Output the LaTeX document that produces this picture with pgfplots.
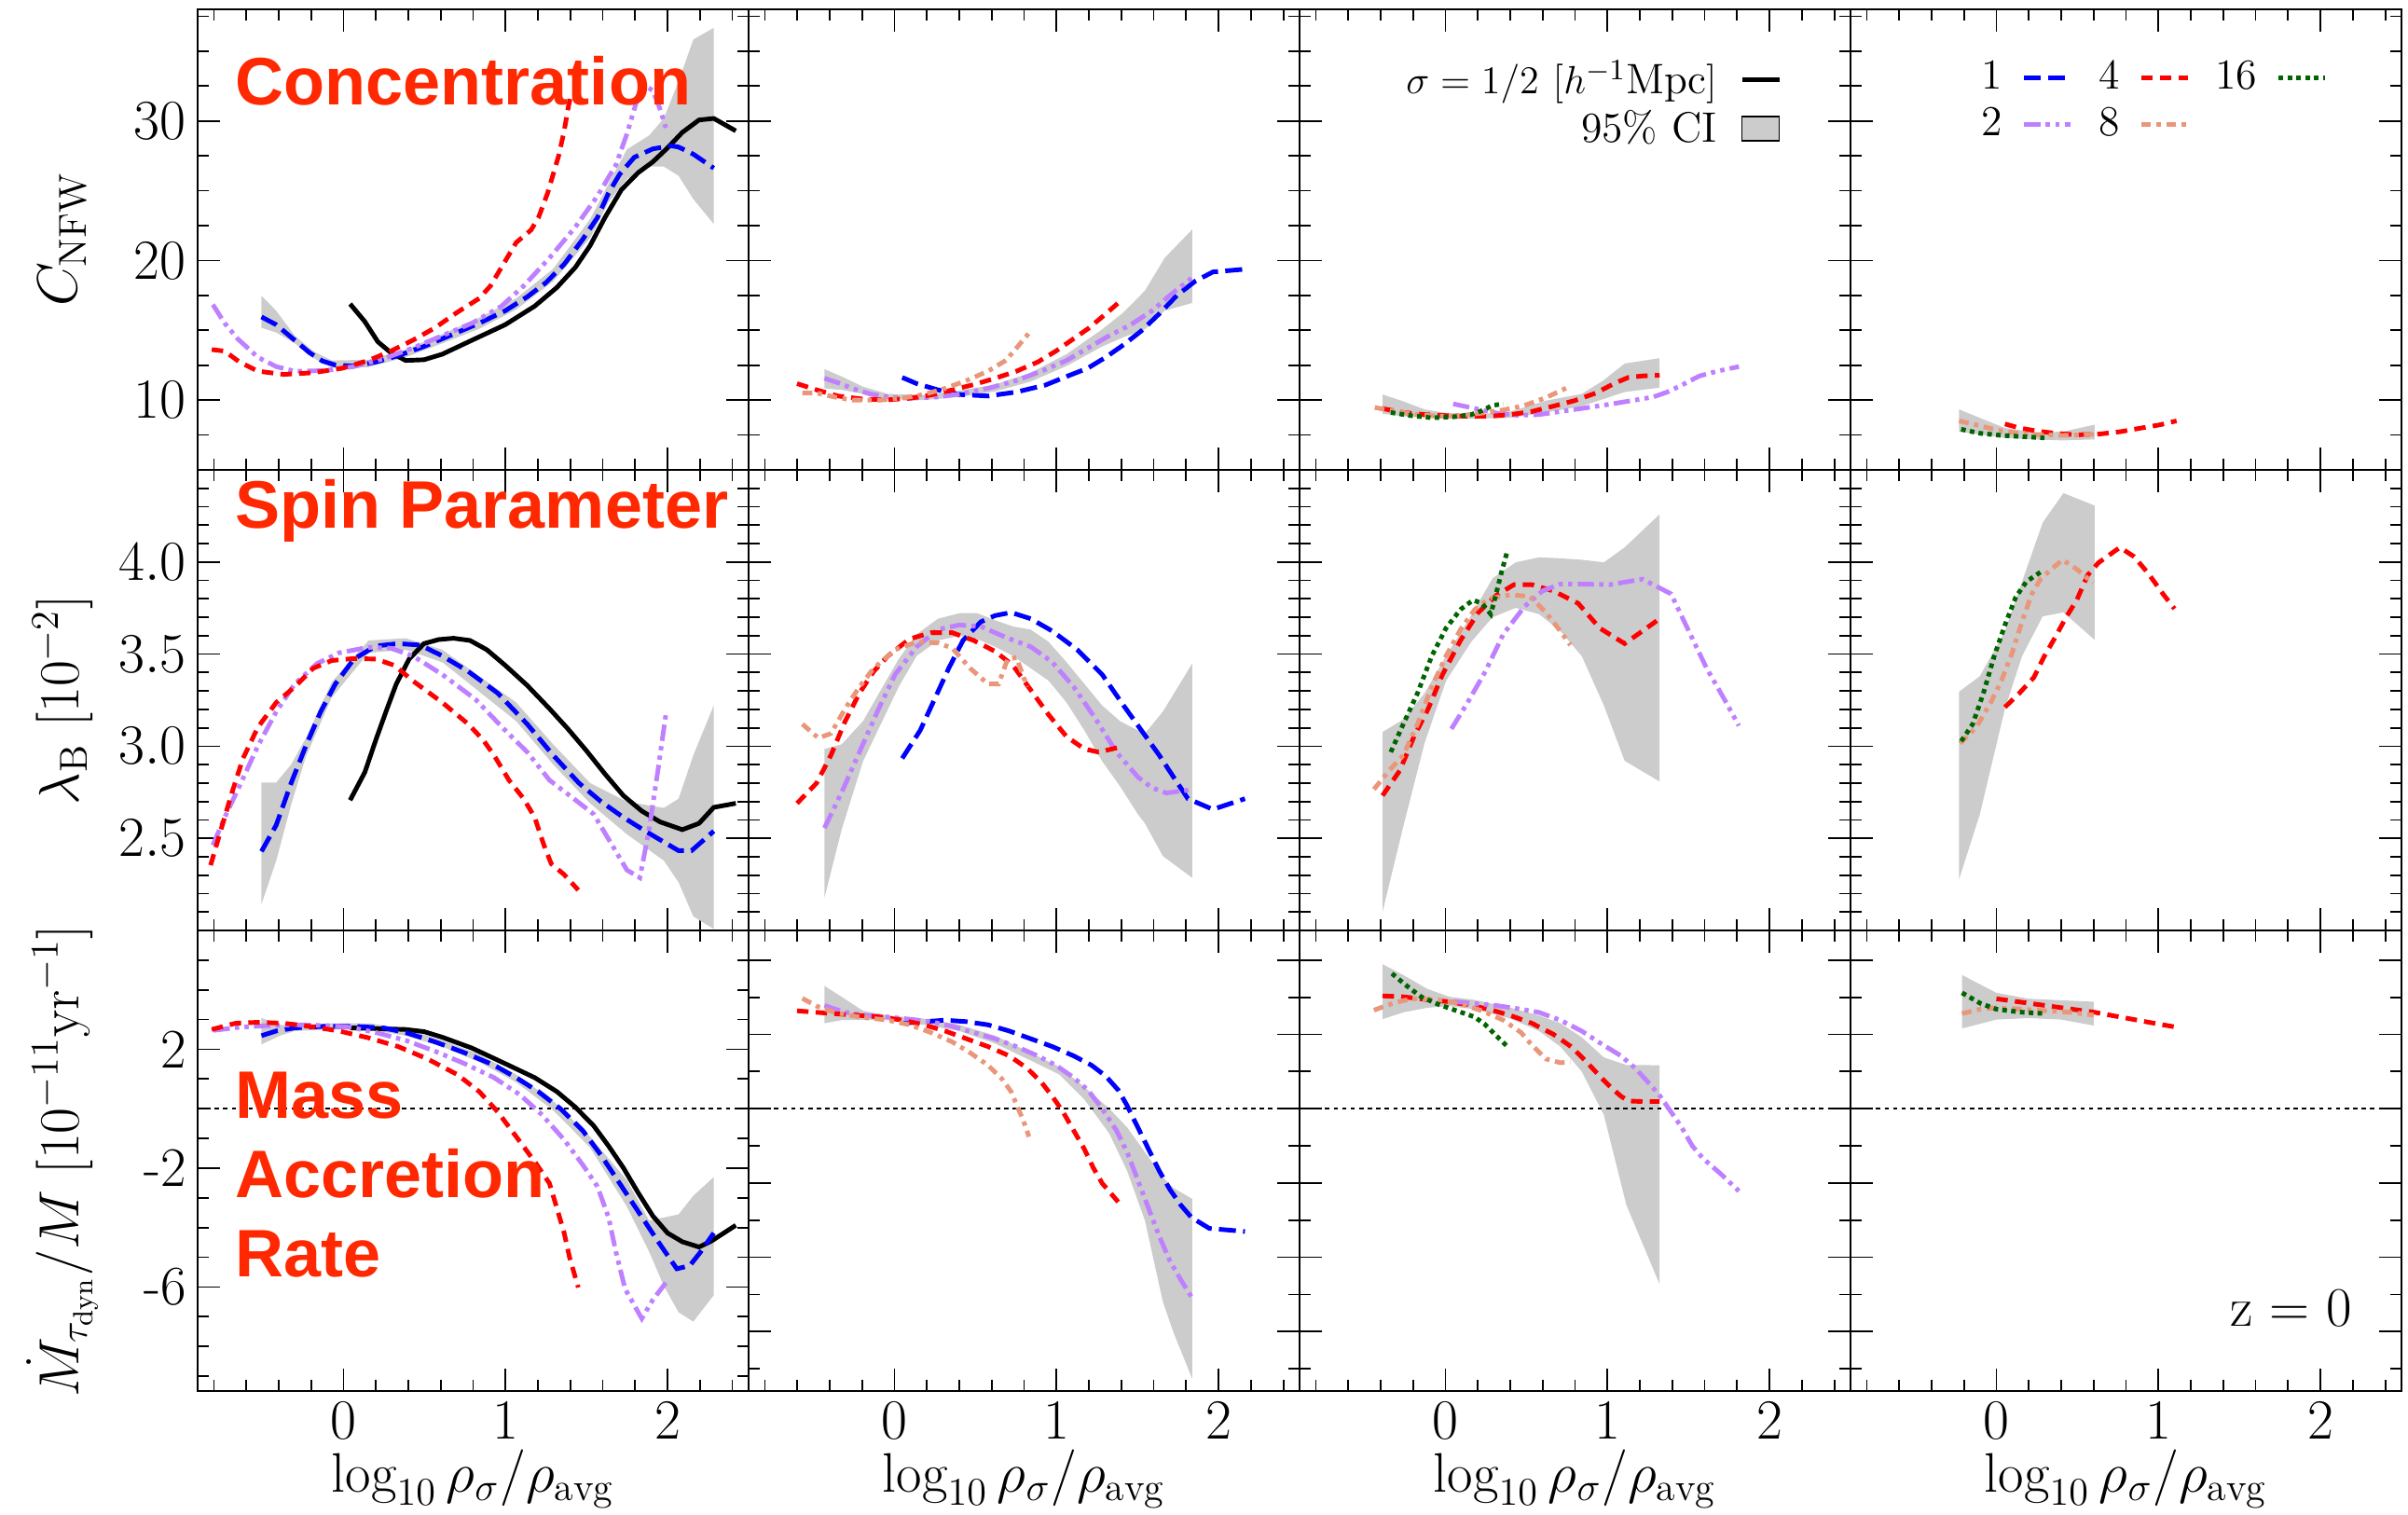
\documentclass[border=0pt]{standalone}
\usepackage{fontspec}
\usepackage{pgfplots}
\pgfplotsset{compat=1.18}
\newfontfamily\tf{Liberation Sans}
\definecolor{cBlue}{RGB}{0,0,255}
\definecolor{cPurple}{RGB}{191,128,255}
\definecolor{cRed}{RGB}{255,0,0}
\definecolor{cSalmon}{RGB}{233,150,122}
\definecolor{cGreen}{RGB}{0,100,0}
\definecolor{cBand}{RGB}{204,204,204}
\definecolor{cTitle}{RGB}{255,40,0}
\newcommand\fs{\fontsize{17}{20}\selectfont}
\newcommand\lf{\fontsize{13}{16}\selectfont}
\pgfplotsset{
 l0/.style={black, line width=1.4pt, mark=none},
 l1/.style={cBlue, line width=1.4pt, dash pattern=on 5.2pt off 2.2pt, mark=none},
 l2/.style={cPurple, line width=1.4pt, dash pattern=on 5pt off 1.6pt on 1.3pt off 1.6pt on 1.3pt off 1.6pt, mark=none},
 l4/.style={cRed, line width=1.4pt, dash pattern=on 3.5pt off 2.2pt, mark=none},
 l8/.style={cSalmon, line width=1.4pt, dash pattern=on 3pt off 1.7pt on 1.3pt off 1.7pt, mark=none},
 l16/.style={cGreen, line width=1.4pt, dash pattern=on 1.4pt off 1.3pt, mark=none},
 bnd/.style={fill=cBand, draw=none, mark=none, forget plot},
 zl/.style={black, line width=0.6pt, dash pattern=on 1.3pt off 1.3pt, mark=none, forget plot},
 panel/.style={width=5.91cm, height=4.94cm, scale only axis, anchor=south west,
   xmin=-0.9, xmax=2.5, xtick={0,1,2},
   minor xtick={-0.8,-0.6,-0.4,-0.2,0.2,0.4,0.6,0.8,1.2,1.4,1.6,1.8,2.2,2.4},
   tick align=inside, major tick length=0.24cm, minor tick length=0.12cm,
   every tick/.style={black, line width=0.5pt},
   axis line style={line width=0.8pt},
   ticklabel style={font=\fs}, label style={font=\fs},
   ylabel style={at={(axis description cs:-0.245,0.5)}, anchor=center},
   xlabel style={at={(axis description cs:0.5,-0.219)}, anchor=base},
   legend image code/.code={\draw[##1] (0cm,0cm) -- (0.45cm,0cm);},
 },
 noxl/.style={xticklabels={}},
 noyl/.style={yticklabels={}},
 bot/.style={xlabel={$\log_{10}\rho_\sigma/\rho_{\mathrm{avg}}$}},
 r1/.style={panel, ymin=5, ymax=38, ytick={10,20,30}, minor ytick={7.5,12.5,15,17.5,22.5,25,27.5,32.5,35,37.5}},
 r2/.style={panel, ymin=2, ymax=4.5, ytick={2.5,3,3.5,4}, minor ytick={2.1,2.2,2.3,2.4,2.6,2.7,2.8,2.9,3.1,3.2,3.3,3.4,3.6,3.7,3.8,3.9,4.1,4.2,4.3,4.4},
   yticklabel style={/pgf/number format/.cd, fixed, fixed zerofill, precision=1}},
 r3a/.style={panel, ymin=-9.5, ymax=6, ytick={-6,-2,2}, minor ytick={-9,-8,-7,-5,-4,-3,-1,0,1,3,4,5}},
 r3b/.style={panel, ymin=-9.5, ymax=6, ytick={-7.5,-5,-2.5,0,2.5,5}, minor ytick={-8.75,-6.25,-3.75,-1.25,1.25,3.75}},
}
\begin{document}
\begin{tikzpicture}
\useasboundingbox (0,0) rectangle (25.83,16.25);
% ================= ROW 1 =================
\begin{axis}[r1, noxl, at={(2.12cm,11.21cm)}, ylabel={$C_{\mathrm{NFW}}$}]
\addplot[bnd] coordinates {(-0.506,17.47) (-0.415,16.40) (-0.301,14.62) (-0.187,13.51) (-0.073,12.84) (0.155,12.89) (0.383,13.62) (0.610,14.73) (0.838,15.91) (1.066,17.29) (1.294,19.40) (1.522,22.96) (1.636,25.51) (1.749,27.96) (1.886,28.96) (1.977,30.18) (2.068,32.84) (2.159,35.84) (2.285,36.67)
 (2.285,22.62) (2.159,24.40) (2.068,26.07) (1.977,26.73) (1.886,26.73) (1.749,25.84) (1.636,24.18) (1.522,21.62) (1.294,18.51) (1.066,16.49) (0.838,15.11) (0.610,14.07) (0.383,13.07) (0.155,12.36) (-0.073,12.33) (-0.187,13.02) (-0.301,14.07) (-0.415,14.84) (-0.506,15.18)} -- cycle;
\addplot[l0,forget plot] coordinates {(0.041,16.89) (0.132,15.62) (0.212,14.18) (0.292,13.40) (0.383,12.84) (0.497,12.89) (0.610,13.29) (0.793,14.29) (0.998,15.40) (1.180,16.73) (1.317,18.07) (1.431,19.51) (1.522,21.07) (1.613,23.07) (1.715,25.07) (1.818,26.29) (1.909,27.07) (2.0,28.07) (2.091,29.18) (2.194,30.07) (2.285,30.18) (2.421,29.29)};
\addplot[l1,forget plot] coordinates {(-0.506,15.96) (-0.415,15.40) (-0.301,14.29) (-0.210,13.40) (-0.130,12.80) (-0.050,12.51) (0.064,12.44) (0.200,12.73) (0.337,13.18) (0.497,13.84) (0.656,14.62) (0.838,15.51) (0.998,16.40) (1.134,17.40) (1.248,18.40) (1.362,19.73) (1.476,21.51) (1.567,23.07) (1.636,24.84) (1.704,26.18) (1.795,27.40) (1.909,28.0) (2.023,28.22) (2.068,28.13) (2.159,27.62) (2.285,26.62)};
\addplot[l2,forget plot] coordinates {(-0.806,16.84) (-0.733,15.51) (-0.654,14.40) (-0.528,13.07) (-0.415,12.40) (-0.301,12.07) (-0.118,12.11) (0.064,12.40) (0.246,12.96) (0.428,13.73) (0.610,14.62) (0.793,15.51) (0.975,16.73) (1.112,18.18) (1.271,20.18) (1.431,22.40) (1.567,24.62) (1.681,26.84) (1.749,29.07) (1.806,31.29) (1.863,32.51) (1.909,32.18) (1.954,30.84) (1.989,29.51)};
\addplot[l4,forget plot] coordinates {(-0.813,13.62) (-0.733,13.51) (-0.642,12.73) (-0.528,12.07) (-0.369,11.84) (-0.187,11.96) (-0.005,12.29) (0.155,12.84) (0.292,13.51) (0.428,14.29) (0.565,15.18) (0.702,16.29) (0.838,17.29) (0.907,18.18) (0.975,19.51) (1.066,21.29) (1.157,22.18) (1.203,23.07) (1.260,24.84) (1.294,26.18) (1.328,27.51) (1.362,29.29) (1.385,30.84) (1.40,31.7)};
\end{axis}
\begin{axis}[r1, noxl, noyl, at={(8.03cm,11.21cm)}]
\addplot[bnd] coordinates {(-0.432,12.22) (-0.326,11.69) (-0.194,10.96) (-0.040,10.44) (0.181,10.36) (0.401,10.67) (0.621,11.11) (0.841,11.96) (1.062,13.29) (1.282,15.07) (1.414,16.29) (1.546,17.84) (1.667,20.18) (1.837,22.22)
 (1.837,16.96) (1.667,16.40) (1.546,15.07) (1.414,14.51) (1.282,13.84) (1.062,12.44) (0.841,11.33) (0.621,10.62) (0.401,10.22) (0.181,10.0) (-0.040,10.07) (-0.194,10.44) (-0.326,10.73) (-0.432,10.84)} -- cycle;
\addplot[l1,forget plot] coordinates {(0.048,11.62) (0.137,11.18) (0.269,10.73) (0.401,10.40) (0.577,10.29) (0.753,10.58) (0.930,11.07) (1.062,11.69) (1.194,12.29) (1.304,13.07) (1.414,13.96) (1.524,14.96) (1.634,16.18) (1.744,17.51) (1.855,18.51) (1.965,19.18) (2.163,19.38)};
\addplot[l2,forget plot] coordinates {(-0.432,11.56) (-0.348,11.24) (-0.260,10.84) (-0.150,10.44) (-0.040,10.22) (0.093,10.13) (0.269,10.22) (0.401,10.44) (0.577,10.84) (0.753,11.40) (0.930,12.18) (1.062,12.84) (1.194,13.73) (1.326,14.62) (1.458,15.40) (1.590,16.40) (1.700,17.51) (1.833,18.73)};
\addplot[l4,forget plot] coordinates {(-0.601,11.18) (-0.480,10.73) (-0.348,10.29) (-0.194,10.07) (-0.040,10.02) (0.093,10.13) (0.225,10.36) (0.357,10.73) (0.489,11.11) (0.621,11.56) (0.753,12.07) (0.885,12.73) (0.996,13.51) (1.106,14.40) (1.194,15.11) (1.282,15.96) (1.381,16.96)};
\addplot[l8,forget plot] coordinates {(-0.568,10.51) (-0.480,10.51) (-0.370,10.22) (-0.260,10.0) (-0.084,10.0) (0.070,10.18) (0.181,10.40) (0.313,10.84) (0.445,11.40) (0.577,12.07) (0.687,12.84) (0.753,13.73) (0.830,14.80)};
\end{axis}
\begin{axis}[r1, noxl, noyl, at={(13.94cm,11.21cm)},
  legend image code/.code={\draw[#1] (0cm,0cm) -- (0.4cm,0cm);},
  legend style={at={(0.876,0.897)}, anchor=north east, draw=none, fill=none, font=\lf, inner sep=0pt, nodes={inner sep=1pt}, column sep=0.21cm, row sep=1.5pt},
  legend cell align=right, legend plot pos=right]
\addplot[bnd] coordinates {(-0.388,10.40) (-0.260,9.91) (-0.128,9.33) (0.004,9.07) (0.181,8.96) (0.401,9.18) (0.621,9.96) (0.841,10.44) (0.974,11.40) (1.106,12.62) (1.322,13.0)
 (1.322,10.89) (1.106,10.58) (0.974,10.07) (0.841,9.56) (0.621,9.11) (0.401,8.73) (0.181,8.67) (0.004,8.67) (-0.128,8.73) (-0.260,8.84) (-0.388,9.02)} -- cycle;
\addplot[l2,forget plot] coordinates {(0.048,9.73) (0.181,9.40) (0.313,9.07) (0.445,8.91) (0.577,8.96) (0.709,9.18) (0.841,9.40) (0.996,9.67) (1.150,9.96) (1.282,10.22) (1.370,10.58) (1.458,11.07) (1.568,11.73) (1.678,12.07) (1.811,12.40)};
\addplot[l4,forget plot] coordinates {(-0.392,9.40) (-0.260,9.11) (-0.128,8.96) (0.004,8.89) (0.137,8.84) (0.269,8.84) (0.401,8.96) (0.533,9.18) (0.665,9.56) (0.797,9.96) (0.930,10.51) (1.040,11.18) (1.128,11.62) (1.216,11.73) (1.322,11.78)};
\addplot[l8,forget plot] coordinates {(-0.436,9.47) (-0.304,9.18) (-0.172,8.96) (-0.040,8.84) (0.093,8.89) (0.225,9.07) (0.357,9.29) (0.489,9.62) (0.621,10.18) (0.764,10.96)};
\addplot[l16,forget plot] coordinates {(-0.337,9.11) (-0.216,8.89) (-0.084,8.73) (0.048,8.80) (0.159,8.96) (0.225,9.24) (0.291,9.62) (0.357,9.73)};
\addlegendimage{l0}
\addlegendentry{$\sigma = 1/2\ [h^{-1}\mathrm{Mpc}]$}
\addlegendimage{legend image code/.code={\draw[fill=cBand,draw=black,line width=0.5pt] (0cm,-0.13cm) rectangle (0.4cm,0.13cm);}}
\addlegendentry{95\% CI}
\end{axis}
\begin{axis}[r1, noxl, noyl, at={(19.85cm,11.21cm)},
  legend image code/.code={\draw[#1] (0cm,0cm) -- (0.5cm,0cm);},
  legend columns=3,
  legend style={at={(0.867,0.897)}, anchor=north east, draw=none, fill=none, font=\lf, inner sep=0pt, nodes={inner sep=1pt}, column sep=0.17cm, row sep=2pt, /tikz/every even column/.append style={column sep=0.24cm}},
  legend cell align=right, legend plot pos=right]
\addplot[bnd] coordinates {(-0.230,9.33) (-0.080,8.62) (0.053,8.0) (0.230,7.69) (0.408,7.73) (0.607,8.24)
 (0.607,7.18) (0.408,7.11) (0.230,7.18) (0.053,7.29) (-0.080,7.51) (-0.230,7.73)} -- cycle;
\addplot[l4,forget plot] coordinates {(0.053,8.29) (0.142,8.0) (0.252,7.78) (0.363,7.62) (0.496,7.51) (0.629,7.56) (0.762,7.73) (0.895,8.0) (1.006,8.22) (1.112,8.51)};
\addplot[l8,forget plot] coordinates {(-0.230,8.51) (-0.124,8.22) (0.009,7.84) (0.142,7.62) (0.275,7.51) (0.408,7.47) (0.540,7.51) (0.607,7.56)};
\addplot[l16,forget plot] coordinates {(-0.217,7.91) (-0.102,7.62) (0.031,7.47) (0.164,7.38) (0.297,7.29)};
\addlegendimage{l1}\addlegendentry{1}
\addlegendimage{l4}\addlegendentry{4}
\addlegendimage{l16}\addlegendentry{16}
\addlegendimage{l2}\addlegendentry{2}
\addlegendimage{l8}\addlegendentry{8}
\end{axis}
% ================= ROW 2 =================
\begin{axis}[r2, noxl, at={(2.12cm,6.27cm)}, ylabel={$\lambda_{\mathrm{B}}\ [10^{-2}]$}]
\addplot[bnd] coordinates {(-0.506,2.803) (-0.415,2.803) (-0.323,2.901) (-0.232,3.044) (-0.073,3.347) (0.155,3.574) (0.383,3.586) (0.610,3.524) (0.838,3.380) (1.066,3.237) (1.294,3.010) (1.522,2.800) (1.749,2.699) (1.977,2.665) (2.068,2.715) (2.159,2.951) (2.285,3.221)
 (2.285,2.008) (2.159,2.076) (2.068,2.261) (1.977,2.379) (1.749,2.522) (1.522,2.690) (1.294,2.901) (1.066,3.136) (0.838,3.296) (0.610,3.456) (0.383,3.524) (0.155,3.507) (-0.073,3.263) (-0.232,2.943) (-0.323,2.682) (-0.415,2.379) (-0.506,2.143)} -- cycle;
\addplot[l0,forget plot] coordinates {(0.041,2.707) (0.132,2.859) (0.200,3.035) (0.269,3.204) (0.326,3.338) (0.405,3.473) (0.497,3.557) (0.588,3.579) (0.679,3.586) (0.781,3.574) (0.884,3.524) (0.998,3.439) (1.134,3.330) (1.271,3.204) (1.385,3.094) (1.499,2.976) (1.613,2.850) (1.727,2.732) (1.841,2.648) (1.954,2.589) (2.091,2.547) (2.194,2.581) (2.285,2.668) (2.421,2.690)};
\addplot[l1,forget plot] coordinates {(-0.506,2.429) (-0.415,2.572) (-0.323,2.800) (-0.232,3.002) (-0.141,3.187) (-0.050,3.338) (0.064,3.473) (0.200,3.544) (0.337,3.557) (0.474,3.549) (0.610,3.490) (0.770,3.406) (0.952,3.288) (1.134,3.120) (1.294,2.951) (1.453,2.800) (1.590,2.699) (1.727,2.614) (1.863,2.539) (1.977,2.480) (2.068,2.433) (2.148,2.433) (2.285,2.539)};
\addplot[l2,forget plot] coordinates {(-0.806,2.463) (-0.733,2.614) (-0.642,2.783) (-0.528,3.002) (-0.415,3.187) (-0.301,3.338) (-0.164,3.448) (-0.027,3.507) (0.155,3.537) (0.292,3.532) (0.428,3.490) (0.610,3.389) (0.815,3.254) (0.998,3.086) (1.134,2.968) (1.271,2.816) (1.408,2.724) (1.544,2.631) (1.658,2.463) (1.749,2.328) (1.829,2.286) (1.886,2.547) (1.943,2.884) (1.989,3.170)};
\addplot[l4,forget plot] coordinates {(-0.820,2.354) (-0.756,2.547) (-0.688,2.749) (-0.620,2.934) (-0.528,3.103) (-0.415,3.237) (-0.301,3.322) (-0.187,3.423) (-0.073,3.465) (0.064,3.476) (0.200,3.473) (0.314,3.439) (0.428,3.355) (0.610,3.237) (0.770,3.120) (0.861,3.035) (0.929,2.951) (1.021,2.816) (1.112,2.715) (1.180,2.614) (1.237,2.463) (1.282,2.362) (1.362,2.303) (1.449,2.219)};
\end{axis}
\begin{axis}[r2, noxl, noyl, at={(8.03cm,6.27cm)}]
\addplot[bnd] coordinates {(-0.432,2.985) (-0.326,3.010) (-0.194,3.136) (-0.084,3.305) (0.026,3.473) (0.137,3.608) (0.269,3.692) (0.401,3.722) (0.511,3.722) (0.621,3.684) (0.731,3.650) (0.841,3.633) (0.952,3.566) (1.062,3.456) (1.172,3.338) (1.282,3.221) (1.392,3.136) (1.502,3.086) (1.546,3.069) (1.656,3.187) (1.837,3.448)
 (1.837,2.286) (1.656,2.404) (1.546,2.581) (1.502,2.631) (1.392,2.783) (1.282,2.918) (1.172,3.086) (1.062,3.237) (0.952,3.355) (0.841,3.423) (0.731,3.490) (0.621,3.540) (0.511,3.582) (0.401,3.599) (0.269,3.574) (0.137,3.490) (0.026,3.322) (-0.084,3.120) (-0.194,2.918) (-0.326,2.547) (-0.432,2.177)} -- cycle;
\addplot[l1,forget plot] coordinates {(0.048,2.934) (0.159,3.086) (0.247,3.254) (0.335,3.423) (0.423,3.574) (0.533,3.675) (0.621,3.709) (0.720,3.726) (0.841,3.692) (0.974,3.625) (1.128,3.524) (1.282,3.389) (1.414,3.221) (1.524,3.086) (1.634,2.951) (1.722,2.833) (1.811,2.715) (1.965,2.657) (2.163,2.715)};
\addplot[l2,forget plot] coordinates {(-0.432,2.556) (-0.326,2.749) (-0.216,2.968) (-0.106,3.187) (0.004,3.389) (0.137,3.540) (0.269,3.633) (0.401,3.658) (0.533,3.650) (0.687,3.591) (0.841,3.540) (0.974,3.456) (1.106,3.322) (1.238,3.153) (1.370,2.968) (1.502,2.833) (1.590,2.774) (1.678,2.746) (1.822,2.763)};
\addplot[l4,forget plot] coordinates {(-0.601,2.690) (-0.480,2.800) (-0.392,2.951) (-0.304,3.136) (-0.216,3.288) (-0.128,3.406) (-0.040,3.490) (0.093,3.582) (0.225,3.616) (0.357,3.616) (0.489,3.574) (0.621,3.515) (0.731,3.439) (0.841,3.305) (0.952,3.170) (1.062,3.052) (1.172,2.985) (1.260,2.968) (1.381,2.993)};
\addplot[l8,forget plot] coordinates {(-0.568,3.120) (-0.469,3.044) (-0.392,3.069) (-0.304,3.204) (-0.216,3.322) (-0.128,3.423) (0.004,3.524) (0.137,3.566) (0.269,3.561) (0.357,3.532) (0.467,3.423) (0.577,3.338) (0.643,3.338) (0.698,3.473) (0.753,3.481) (0.819,3.322)};
\end{axis}
\begin{axis}[r2, noxl, noyl, at={(13.94cm,6.27cm)}]
\addplot[bnd] coordinates {(-0.388,3.077) (-0.260,3.145) (-0.128,3.288) (0.004,3.490) (0.159,3.709) (0.291,3.911) (0.434,3.998) (0.577,4.025) (0.709,4.020) (0.841,4.012) (0.978,3.998) (1.106,4.079) (1.322,4.259)
 (1.322,2.808) (1.106,2.921) (0.978,3.221) (0.841,3.490) (0.709,3.625) (0.577,3.717) (0.434,3.751) (0.291,3.700) (0.159,3.566) (0.004,3.355) (-0.128,3.019) (-0.260,2.564) (-0.388,2.101)} -- cycle;
\addplot[l4,forget plot] coordinates {(-0.388,2.732) (-0.282,2.867) (-0.194,3.052) (-0.106,3.204) (-0.018,3.389) (0.093,3.574) (0.203,3.726) (0.313,3.818) (0.423,3.877) (0.533,3.877) (0.665,3.843) (0.819,3.776) (0.952,3.641) (1.106,3.557) (1.216,3.625) (1.322,3.692)};
\addplot[l2,forget plot] coordinates {(0.037,3.094) (0.137,3.237) (0.247,3.406) (0.357,3.608) (0.489,3.759) (0.599,3.843) (0.709,3.880) (0.841,3.880) (1.018,3.877) (1.216,3.907) (1.392,3.827) (1.502,3.625) (1.612,3.423) (1.722,3.254) (1.811,3.111)};
\addplot[l8,forget plot] coordinates {(-0.441,2.766) (-0.348,2.867) (-0.260,2.951) (-0.172,3.120) (-0.084,3.322) (0.004,3.490) (0.093,3.633) (0.181,3.742) (0.269,3.801) (0.401,3.822) (0.522,3.813) (0.621,3.726) (0.709,3.625) (0.771,3.549)};
\addplot[l16,forget plot] coordinates {(-0.337,2.968) (-0.260,3.120) (-0.172,3.288) (-0.084,3.490) (0.004,3.641) (0.093,3.742) (0.170,3.793) (0.225,3.776) (0.280,3.717) (0.313,3.827) (0.346,3.944) (0.383,4.062)};
\end{axis}
\begin{axis}[r2, noxl, noyl, at={(19.85cm,6.27cm)}]
\addplot[bnd] coordinates {(-0.230,3.296) (-0.102,3.380) (0.053,3.625) (0.159,3.894) (0.286,4.214) (0.414,4.374) (0.607,4.306)
 (0.607,3.577) (0.414,3.726) (0.286,3.705) (0.159,3.490) (0.053,3.204) (-0.102,2.631) (-0.230,2.278)} -- cycle;
\addplot[l4,forget plot] coordinates {(0.053,3.212) (0.142,3.288) (0.230,3.372) (0.297,3.490) (0.363,3.591) (0.430,3.700) (0.496,3.793) (0.563,3.928) (0.629,3.995) (0.762,4.079) (0.850,4.029) (0.939,3.936) (1.028,3.827) (1.099,3.746)};
\addplot[l8,forget plot] coordinates {(-0.224,3.015) (-0.124,3.103) (-0.035,3.237) (0.031,3.355) (0.097,3.507) (0.164,3.692) (0.219,3.827) (0.275,3.911) (0.341,3.961) (0.408,4.012) (0.496,3.961) (0.596,3.886)};
\addplot[l16,forget plot] coordinates {(-0.217,3.027) (-0.146,3.120) (-0.080,3.288) (-0.013,3.490) (0.053,3.658) (0.120,3.810) (0.186,3.894) (0.286,3.953)};
\end{axis}
% ================= ROW 3 =================
\begin{axis}[r3a, bot, at={(2.12cm,1.33cm)}, yticklabels={-6,-2,2}, ylabel={$\dot{M}_{\tau_{\mathrm{dyn}}}/M\ [10^{-11}\mathrm{yr}^{-1}]$}]
\addplot[bnd] coordinates {(-0.506,3.054) (-0.392,2.824) (-0.301,2.772) (-0.073,2.877) (0.155,2.877) (0.383,2.688) (0.610,2.301) (0.838,1.831) (1.066,1.151) (1.294,0.262) (1.522,-0.941) (1.749,-2.406) (1.886,-3.766) (1.977,-3.661) (2.068,-3.556) (2.159,-2.929) (2.285,-2.301)
 (2.285,-6.276) (2.159,-7.165) (2.068,-6.851) (1.977,-5.962) (1.886,-4.812) (1.749,-3.295) (1.522,-1.308) (1.294,-0.052) (1.066,0.889) (0.838,1.569) (0.610,2.092) (0.383,2.458) (0.155,2.667) (-0.073,2.667) (-0.301,2.615) (-0.392,2.458) (-0.506,2.165)} -- cycle;
\addplot[zl] coordinates {(-0.9,0) (2.5,0)};
\addplot[l0,forget plot] coordinates {(0.041,2.720) (0.383,2.667) (0.497,2.594) (0.610,2.406) (0.793,2.040) (0.998,1.517) (1.180,1.046) (1.317,0.575) (1.431,0.052) (1.544,-0.575) (1.636,-1.255) (1.727,-1.987) (1.818,-2.824) (1.909,-3.609) (2.0,-4.184) (2.091,-4.477) (2.194,-4.655) (2.273,-4.446) (2.421,-3.923)};
\addplot[l1,forget plot] coordinates {(-0.506,2.458) (-0.415,2.615) (-0.301,2.720) (-0.118,2.772) (0.064,2.772) (0.246,2.720) (0.383,2.563) (0.565,2.249) (0.747,1.883) (0.929,1.464) (1.066,1.046) (1.203,0.575) (1.339,0) (1.476,-0.732) (1.590,-1.569) (1.704,-2.510) (1.818,-3.452) (1.932,-4.393) (2.057,-5.387) (2.137,-5.282) (2.205,-4.812) (2.285,-4.184)};
\addplot[l2,forget plot] coordinates {(-0.802,2.636) (-0.642,2.741) (-0.483,2.793) (-0.301,2.824) (-0.118,2.803) (0.041,2.741) (0.200,2.563) (0.383,2.301) (0.565,1.935) (0.747,1.517) (0.929,1.046) (1.089,0.471) (1.226,-0.209) (1.362,-1.046) (1.476,-1.883) (1.567,-2.615) (1.636,-3.661) (1.681,-4.812) (1.738,-6.067) (1.841,-7.061) (1.909,-6.433) (1.989,-5.858)};
\addplot[l4,forget plot] coordinates {(-0.813,2.667) (-0.665,2.877) (-0.528,2.908) (-0.369,2.877) (-0.210,2.772) (-0.027,2.615) (0.155,2.385) (0.337,2.092) (0.519,1.674) (0.702,1.151) (0.838,0.575) (0.952,-0.105) (1.066,-0.941) (1.180,-1.778) (1.271,-2.510) (1.317,-3.347) (1.362,-4.184) (1.396,-5.021) (1.449,-6.015)};
\end{axis}
\begin{axis}[r3b, noyl, bot, at={(8.03cm,1.33cm)}]
\addplot[bnd] coordinates {(-0.432,4.132) (-0.326,3.766) (-0.194,3.295) (-0.040,3.138) (0.181,3.033) (0.401,2.824) (0.621,2.458) (0.841,1.883) (1.018,1.412) (1.172,0.732) (1.326,0.0) (1.436,-0.628) (1.546,-1.464) (1.656,-2.301) (1.722,-2.667) (1.837,-3.033)
 (1.837,-9.079) (1.722,-7.531) (1.656,-6.485) (1.546,-3.766) (1.436,-2.092) (1.326,-0.837) (1.172,0.314) (1.018,1.151) (0.841,1.621) (0.621,2.197) (0.401,2.615) (0.181,2.824) (-0.040,2.981) (-0.194,2.981) (-0.326,2.981) (-0.432,2.877)} -- cycle;
\addplot[zl] coordinates {(-0.9,0) (2.5,0)};
\addplot[l1,forget plot] coordinates {(0.048,2.877) (0.181,2.929) (0.313,2.981) (0.445,2.929) (0.577,2.824) (0.709,2.615) (0.841,2.354) (0.974,2.092) (1.106,1.778) (1.216,1.464) (1.304,1.098) (1.381,0.628) (1.436,0.105) (1.502,-0.628) (1.568,-1.360) (1.634,-2.092) (1.700,-2.720) (1.767,-3.243) (1.833,-3.661) (1.943,-4.027) (2.163,-4.132)};
\addplot[l2,forget plot] coordinates {(-0.432,3.473) (-0.304,3.243) (-0.172,3.138) (-0.040,3.086) (0.093,3.013) (0.225,2.929) (0.357,2.772) (0.489,2.563) (0.621,2.354) (0.753,2.092) (0.885,1.778) (0.996,1.464) (1.106,1.046) (1.194,0.628) (1.282,0) (1.370,-0.732) (1.436,-1.464) (1.502,-2.406) (1.568,-3.347) (1.634,-4.289) (1.700,-5.126) (1.767,-5.753) (1.844,-6.433)};
\addplot[l4,forget plot] coordinates {(-0.601,3.295) (-0.480,3.243) (-0.348,3.190) (-0.216,3.138) (-0.084,3.086) (0.048,2.981) (0.181,2.824) (0.313,2.615) (0.445,2.354) (0.577,2.092) (0.709,1.778) (0.819,1.360) (0.907,0.889) (0.974,0.418) (1.040,-0.105) (1.106,-0.732) (1.172,-1.360) (1.227,-1.987) (1.282,-2.510) (1.381,-3.138)};
\addplot[l8,forget plot] coordinates {(-0.568,3.713) (-0.480,3.452) (-0.370,3.243) (-0.216,3.086) (-0.040,2.981) (0.093,2.824) (0.225,2.563) (0.357,2.249) (0.467,1.883) (0.577,1.464) (0.665,0.994) (0.720,0.575) (0.764,0) (0.797,-0.418) (0.830,-0.941)};
\end{axis}
\begin{axis}[r3b, noyl, bot, at={(13.94cm,1.33cm)}]
\addplot[bnd] coordinates {(-0.388,4.864) (-0.260,4.498) (-0.110,4.027) (0.026,3.766) (0.181,3.661) (0.401,3.400) (0.577,3.138) (0.709,2.877) (0.841,2.406) (0.978,1.726) (1.117,1.47) (1.322,1.464)
 (1.322,-5.910) (1.117,-3.243) (0.978,-0.209) (0.841,1.255) (0.709,2.092) (0.577,2.615) (0.401,3.033) (0.181,3.347) (0.026,3.452) (-0.110,3.400) (-0.260,3.243) (-0.388,3.013)} -- cycle;
\addplot[zl] coordinates {(-0.9,0) (2.5,0)};
\addplot[l4,forget plot] coordinates {(-0.388,3.797) (-0.260,3.766) (-0.128,3.682) (0.004,3.609) (0.137,3.504) (0.269,3.347) (0.401,3.138) (0.533,2.877) (0.665,2.510) (0.775,2.092) (0.863,1.621) (0.952,1.098) (1.018,0.732) (1.084,0.418) (1.128,0.262) (1.216,0.241) (1.322,0.241)};
\addplot[l2,forget plot] coordinates {(0.048,3.609) (0.181,3.536) (0.313,3.473) (0.445,3.368) (0.577,3.243) (0.709,2.981) (0.841,2.615) (0.974,2.144) (1.084,1.778) (1.172,1.360) (1.260,0.837) (1.326,0.418) (1.392,-0.105) (1.458,-0.628) (1.524,-1.255) (1.590,-1.674) (1.700,-2.197) (1.811,-2.772)};
\addplot[l8,forget plot] coordinates {(-0.441,3.316) (-0.348,3.504) (-0.260,3.640) (-0.172,3.713) (-0.040,3.661) (0.093,3.536) (0.225,3.295) (0.357,2.981) (0.467,2.563) (0.533,2.144) (0.621,1.674) (0.709,1.548) (0.771,1.569)};
\addplot[l16,forget plot] coordinates {(-0.330,4.550) (-0.238,4.132) (-0.150,3.766) (-0.040,3.504) (0.070,3.295) (0.181,3.086) (0.247,2.824) (0.313,2.458) (0.379,2.113)};
\end{axis}
\begin{axis}[r3b, noyl, bot, at={(19.85cm,1.33cm)}]
\addplot[bnd] coordinates {(-0.212,4.5) (0.0,3.9) (0.2,3.7) (0.4,3.65) (0.6,3.6)
 (0.6,2.8) (0.4,3.0) (0.2,3.05) (0.0,3.0) (-0.212,2.7)} -- cycle;
\addplot[zl] coordinates {(-0.9,0) (2.5,0)};
\addplot[l4,forget plot] coordinates {(0.0,3.7) (0.2,3.55) (0.4,3.4) (0.6,3.25) (0.8,3.05) (1.0,2.85) (1.115,2.74)};
\addplot[l8,forget plot] coordinates {(-0.212,3.2) (-0.1,3.35) (0.0,3.4) (0.15,3.35) (0.3,3.3) (0.45,3.25) (0.6,3.15)};
\addplot[l16,forget plot] coordinates {(-0.212,3.9) (-0.1,3.55) (0.0,3.35) (0.15,3.25) (0.3,3.2)};
\end{axis}
% ================= annotations =================
\begin{scope}[every node/.style={anchor=base west, inner sep=0pt, text=cTitle, font={\tf\bfseries\fontsize{20.5}{24}\selectfont}}]
\node at (2.52,15.12) {Concentration};
\node at (2.52,10.58) {Spin Parameter};
\node at (2.52,4.25) {Mass};
\node at (2.52,3.40) {Accretion};
\node at (2.52,2.55) {Rate};
\end{scope}
\node[anchor=base east, inner sep=0pt, font=\fs] at (25.24,2.02) {z = 0};
\end{tikzpicture}
\end{document}
